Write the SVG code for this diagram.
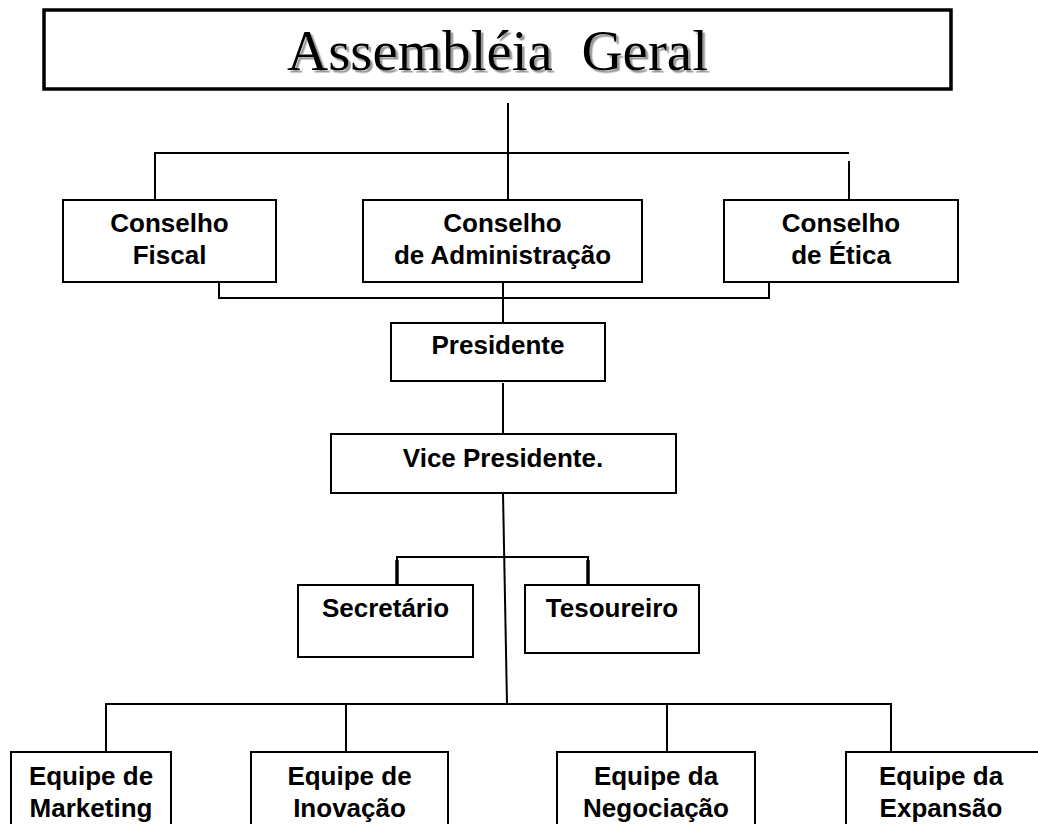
<svg xmlns="http://www.w3.org/2000/svg" width="1038" height="824" viewBox="0 0 1038 824">
<style>
.box{fill:#fff;stroke:#000;stroke-width:2}
.lbl{font-family:"Liberation Sans",Arial,sans-serif;font-weight:bold;font-size:26px;text-anchor:middle;fill:#000}
.title{font-family:"Liberation Serif","Times New Roman",serif;font-size:57px;text-anchor:middle}
.con{fill:none;stroke:#000;stroke-width:2}
</style>
<defs>
<filter id="shadow" x="-5%" y="-20%" width="110%" height="140%">
<feDropShadow dx="2.5" dy="2.5" stdDeviation="0.4" flood-color="#9a9a9a" flood-opacity="1"/>
</filter>
</defs>
<rect width="1038" height="824" fill="#fff"/>
<g id="connectors">
<line class="con" x1="508" y1="103" x2="508" y2="200"/>
<polyline class="con" points="155,200 155,153 849,153"/>
<line class="con" x1="849" y1="161" x2="849" y2="200"/>
<polyline class="con" points="219,282 219,298 769,298 769,282"/>
<line class="con" x1="503" y1="282" x2="503" y2="323"/>
<line class="con" x1="503" y1="383" x2="503" y2="434"/>
<line class="con" x1="503" y1="493" x2="507" y2="704"/>
<polyline class="con" points="397,585 397,557 588,557 588,585"/>
<line stroke="#000" stroke-width="3.5" x1="397" y1="560" x2="397" y2="584"/>
<line stroke="#000" stroke-width="3.5" x1="588" y1="560" x2="588" y2="584"/>
<polyline class="con" points="106,752 106,704 891,704 891,752"/>
<line class="con" x1="346" y1="704" x2="346" y2="752"/>
<line class="con" x1="667" y1="704" x2="667" y2="752"/>
</g>
<g id="assembleia">
<rect x="44" y="10" width="907" height="79" fill="#fff" stroke="#000" stroke-width="3.5"/>
<text class="title" x="497.5" y="70" fill="#000" filter="url(#shadow)" xml:space="preserve">Assembléia  Geral</text>
</g>
<g id="conselho-fiscal">
<rect class="box" x="63" y="200" width="213" height="82"/>
<text class="lbl" x="169.5" y="232">Conselho</text>
<text class="lbl" x="169.5" y="264">Fiscal</text>
</g>
<g id="conselho-administracao">
<rect class="box" x="363" y="200" width="279" height="82"/>
<text class="lbl" x="502.5" y="232">Conselho</text>
<text class="lbl" x="502.5" y="264">de Administração</text>
</g>
<g id="conselho-etica">
<rect class="box" x="724" y="200" width="234" height="82"/>
<text class="lbl" x="841" y="232">Conselho</text>
<text class="lbl" x="841" y="264">de Ética</text>
</g>
<g id="presidente">
<rect class="box" x="391" y="323" width="214" height="58"/>
<text class="lbl" x="498" y="354">Presidente</text>
</g>
<g id="vice-presidente">
<rect class="box" x="331" y="434" width="345" height="59"/>
<text class="lbl" x="503" y="467">Vice Presidente.</text>
</g>
<g id="secretario">
<rect class="box" x="298" y="585" width="175" height="72"/>
<text class="lbl" x="385.5" y="617">Secretário</text>
</g>
<g id="tesoureiro">
<rect class="box" x="525" y="585" width="174" height="68"/>
<text class="lbl" x="612" y="617">Tesoureiro</text>
</g>
<g id="equipe-marketing">
<rect class="box" x="11" y="752" width="160" height="90"/>
<text class="lbl" x="91" y="785">Equipe de</text>
<text class="lbl" x="91" y="817">Marketing</text>
</g>
<g id="equipe-inovacao">
<rect class="box" x="251" y="752" width="197" height="90"/>
<text class="lbl" x="349.5" y="785">Equipe de</text>
<text class="lbl" x="349.5" y="817">Inovação</text>
</g>
<g id="equipe-negociacao">
<rect class="box" x="557" y="752" width="198" height="90"/>
<text class="lbl" x="656" y="785">Equipe da</text>
<text class="lbl" x="656" y="817">Negociação</text>
</g>
<g id="equipe-expansao">
<rect class="box" x="846" y="752" width="200" height="90"/>
<text class="lbl" x="941" y="785">Equipe da</text>
<text class="lbl" x="941" y="817">Expansão</text>
</g>
</svg>
